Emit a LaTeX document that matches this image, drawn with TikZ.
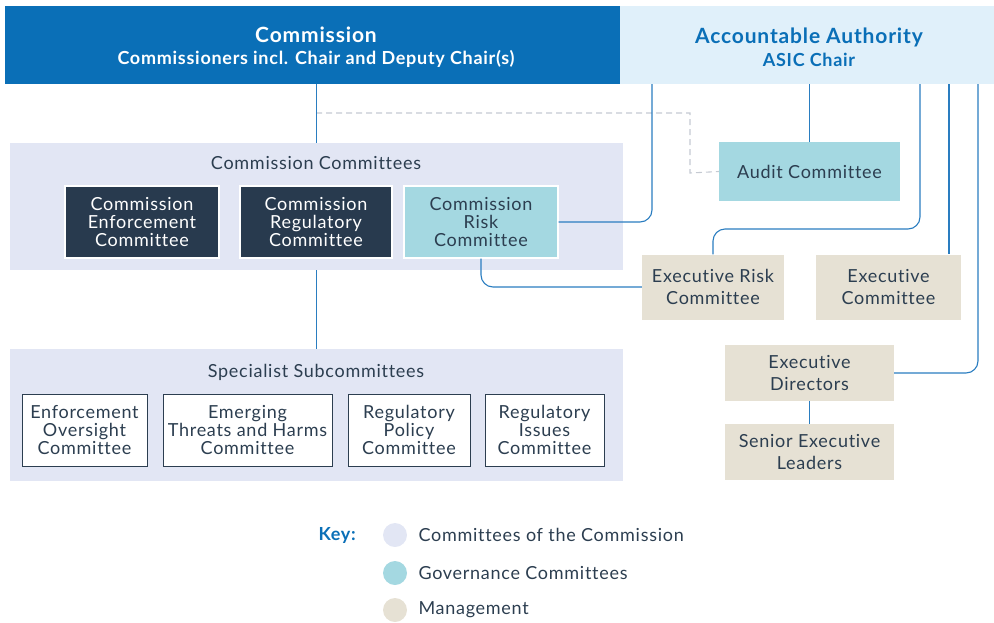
\documentclass[tikz,border=0pt]{standalone}
\usepackage{fontspec}
\setmainfont{Lato}[LetterSpace=4, Ligatures={NoCommon,NoRare}]
\definecolor{commblue}{HTML}{0A6FB7}
\definecolor{aalight}{HTML}{E0F0FA}
\definecolor{lav}{HTML}{E2E6F4}
\definecolor{navy}{HTML}{283A4E}
\definecolor{gov}{HTML}{A4D8E1}
\definecolor{mgmt}{HTML}{E6E1D4}
\definecolor{ink}{HTML}{2C3E50}
\definecolor{wire}{HTML}{2A7DC0}
\definecolor{dashgray}{HTML}{C5CAD2}
\begin{document}
\begin{tikzpicture}[x=1pt,y=-1pt,
  txt/.style={font=\fontsize{18}{18}\selectfont, text=ink, align=center},
  box/.style={txt, inner sep=0pt, minimum width=#1},
  panel/.style={fill=lav, inner sep=0pt, minimum width=613},
  darkbox/.style={box=#1, fill=navy, draw=white, line width=1.2pt, text=white, minimum height=72},
  govbox/.style={box=#1, fill=gov},
  mgmtbox/.style={box=#1, fill=mgmt},
  subbox/.style={box=#1, fill=white, draw=ink, line width=0.8pt, minimum height=72},
  conn/.style={draw=wire, line width=1.1pt, rounded corners=12},
  keydot/.style={circle, inner sep=0pt, minimum size=24},
  keytxt/.style={txt, anchor=west}
]
\useasboundingbox (0,0) rectangle (994,622);

% header bands
\node[fill=commblue, inner sep=0pt, minimum width=615, minimum height=78] (comm) at (312.5,45) {};
\node[fill=aalight, inner sep=0pt, minimum width=374, minimum height=78] (aa) at (807,45) {};
\node[font=\fontsize{21}{24}\selectfont\bfseries, text=white] (commT) at (316,35) {Commission};
\node[font=\fontsize{18}{20}\selectfont\bfseries, text=white] (commS) at (316,59) {Commissioners incl. Chair and Deputy Chair(s)};
\node[font=\fontsize{21}{24}\selectfont\bfseries, text=commblue] (aaT) at (809,37) {Accountable Authority};
\node[font=\fontsize{18}{20}\selectfont\bfseries, text=commblue] (aaS) at (809,60) {ASIC Chair};

% Commission Committees panel
\node[panel, minimum height=127] (ccp) at (316.5,206.5) {};
\node[txt] (ccpT) at (316,163) {Commission Committees};
\node[darkbox=154] (cec) at (142,222) {Commission\\Enforcement\\Committee};
\node[darkbox=152] (crg) at (316,222) {Commission\\Regulatory\\Committee};
\node[govbox=154, minimum height=72, draw=white, line width=1.2pt] (crc) at (481,222) {Commission\\Risk\\Committee};

% Specialist Subcommittees panel
\node[panel, minimum height=132] (ssp) at (316.5,415) {};
\node[txt] (sspT) at (316,372) {Specialist Subcommittees};
\node[subbox=125] (eoc) at (84.5,430) {Enforcement\\Oversight\\Committee};
\node[subbox=169] (etc) at (247.5,430) {Emerging\\Threats and Harms\\Committee};
\node[subbox=122] (rpc) at (409,430) {Regulatory\\Policy\\Committee};
\node[subbox=119] (ric) at (544.5,430) {Regulatory\\Issues\\Committee};

% governance and management
\node[govbox=181, minimum height=59] (audit) at (809.5,171.5) {Audit Committee};
\node[mgmtbox=142, minimum height=65] (erc) at (713,287) {Executive Risk\\[4pt]Committee};
\node[mgmtbox=145, minimum height=65] (ec) at (888.5,287) {Executive\\[4pt]Committee};
\node[mgmtbox=169, minimum height=56] (ed) at (809.5,373) {Executive\\[4pt]Directors};
\node[mgmtbox=169, minimum height=56] (sel) at (809.5,452) {Senior Executive\\[4pt]Leaders};

% connectors
\coordinate (dashA) at (316,113);
\coordinate (aa1) at (652,84);
\coordinate (aa2) at (920,84);
\coordinate (aa3) at (949,84);
\coordinate (aa4) at (978,84);
\draw[draw=dashgray, line width=1.1pt, dash pattern=on 6pt off 4pt] (dashA) -- (690,113) -- (690,173) -- (audit.west);
\draw[conn] (ccp.north |- comm.south) -- (ccp.north);
\draw[conn] (ccp.south) -- (ssp.north);
\draw[conn] (crc.east) -| (aa1);
\draw[conn] (audit.north) -- (audit.north |- aa.south);
\draw[conn] (aa2) -- (920,229) -| (erc.north);
\draw[conn] (aa3) -- (aa3 |- ec.north);
\draw[conn] (aa4) |- (ed.east);
\draw[conn] (crc.south) |- (erc.west);
\draw[conn] (ed.south) -- (sel.north);

% key
\node[font=\fontsize{18}{20}\selectfont\bfseries, text=commblue, anchor=west] (keyT) at (315,535) {Key:};
\node[keydot, fill=lav] (k1) at (395,535) {};
\node[keydot, fill=gov] (k2) at (395,573) {};
\node[keydot, fill=mgmt] (k3) at (395,610) {};
\node[keytxt] (k1t) at (415,535) {Committees of the Commission};
\node[keytxt] (k2t) at (415,573) {Governance Committees};
\node[keytxt] (k3t) at (415,610) {Management};
\end{tikzpicture}
\end{document}
